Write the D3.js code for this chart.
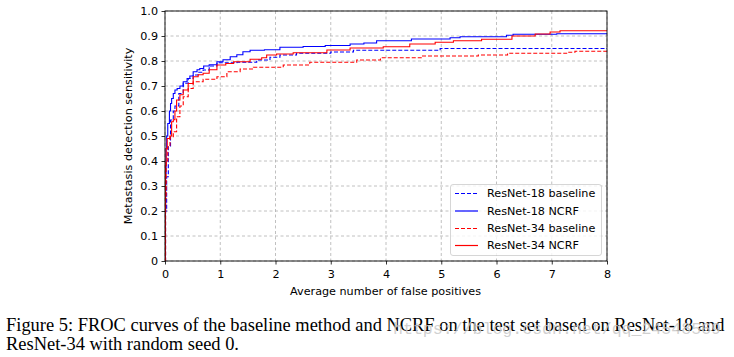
<!DOCTYPE html>
<html><head><meta charset="utf-8">
<script src="https://cdn.jsdelivr.net/npm/d3@7/dist/d3.min.js"></script>
<style>body{margin:0;background:#fff}svg{display:block}</style>
</head><body>
<svg id="c" width="734" height="357"></svg>
<script>
// ---- data ----
const xTicks = [0,1,2,3,4,5,6,7,8];
const yTicks = [0,0.1,0.2,0.3,0.4,0.5,0.6,0.7,0.8,0.9,1.0];
const yTickLabels = ["0","0.1","0.2","0.3","0.4","0.5","0.6","0.7","0.8","0.9","1.0"];
const seriesNames = ["ResNet-18 baseline","ResNet-18 NCRF","ResNet-34 baseline","ResNet-34 NCRF"];

const r18BaseX = [0,0.01,0.03,0.06,0.1,0.15,0.18,0.25,0.33,0.42,0.51,0.6,0.69,0.8,0.94,1.3,1.66,1.9,2.08,2.38,3.0,3.41,4.98,8];
const r18BaseY = [0,0.2,0.337,0.457,0.564,0.6,0.62,0.67,0.711,0.73,0.744,0.755,0.764,0.78,0.793,0.795,0.804,0.815,0.824,0.831,0.836,0.843,0.85,0.85];

const r18NcrfX = [0,0.005,0.01,0.02,0.03,0.05,0.08,0.1,0.12,0.15,0.18,0.22,0.27,0.33,0.4,0.45,0.51,0.58,0.63,0.7,0.8,0.94,1.05,1.18,1.3,1.41,1.54,1.8,2.08,2.5,2.9,3.35,3.6,3.83,4.46,5.16,5.34,6.18,6.3,7.09,8];
const r18NcrfY = [0,0.2,0.35,0.45,0.5,0.55,0.6,0.63,0.65,0.67,0.684,0.69,0.70,0.717,0.73,0.74,0.757,0.765,0.77,0.78,0.785,0.797,0.805,0.817,0.825,0.837,0.843,0.845,0.855,0.858,0.862,0.868,0.872,0.881,0.888,0.893,0.897,0.903,0.907,0.909,0.909];

const r34BaseX = [0,0.01,0.02,0.05,0.09,0.15,0.21,0.27,0.33,0.42,0.51,0.69,0.94,1.12,1.36,1.6,2.14,2.62,3.47,3.9,4.65,5.67,6.2,7.27,7.42,8];
const r34BaseY = [0,0.25,0.4,0.457,0.497,0.517,0.577,0.62,0.657,0.69,0.717,0.727,0.737,0.757,0.768,0.775,0.784,0.795,0.804,0.813,0.82,0.824,0.831,0.835,0.839,0.839];

const r34NcrfX = [0,0.005,0.01,0.02,0.04,0.09,0.12,0.15,0.18,0.21,0.27,0.33,0.42,0.51,0.6,0.69,0.8,0.94,1.1,1.24,1.54,1.75,1.84,2.02,2.32,2.93,3.35,3.95,4.43,4.89,5.22,5.73,6.28,6.7,6.97,7.15,8];
const r34NcrfY = [0,0.2,0.38,0.45,0.49,0.5,0.557,0.565,0.6,0.644,0.665,0.684,0.71,0.737,0.745,0.751,0.765,0.784,0.79,0.797,0.807,0.813,0.824,0.828,0.833,0.844,0.852,0.857,0.868,0.875,0.881,0.887,0.9,0.908,0.916,0.921,0.921];

const captionLines = ["Figure 5: FROC curves of the baseline method and NCRF on the test set based on ResNet-18 and","ResNet-34 with random seed 0."];
const watermark = "https://blog.csdn.net/qq_24548569";

// ---- drawing ----
const svg = d3.select("#c");
svg.append("rect").attr("width",734).attr("height",357).attr("fill","#fff");
const L=165, R=607, T=11, B=261;
const x = d3.scaleLinear().domain([0,8]).range([L,R]);
const y = d3.scaleLinear().domain([0,1]).range([B,T]);

const font = "'DejaVu Sans', sans-serif";
const fsz = 11.2;
// grid
const g = svg.append("g");
g.selectAll(".gx").data(xTicks).join("line")
  .attr("x1",d=>x(d)).attr("x2",d=>x(d)).attr("y1",T).attr("y2",B)
  .attr("stroke","#b0b0b0").attr("stroke-width",0.8).attr("stroke-dasharray","3,2.5");
g.selectAll(".gy").data(yTicks).join("line")
  .attr("y1",d=>y(d)).attr("y2",d=>y(d)).attr("x1",L).attr("x2",R)
  .attr("stroke","#b0b0b0").attr("stroke-width",0.8).attr("stroke-dasharray","3,2.5");

// series
const series = [
  {xs:r18BaseX, ys:r18BaseY, color:"#0000ff", dash:"4,2"},
  {xs:r18NcrfX, ys:r18NcrfY, color:"#0000ff", dash:"none"},
  {xs:r34BaseX, ys:r34BaseY, color:"#ff0000", dash:"4,2"},
  {xs:r34NcrfX, ys:r34NcrfY, color:"#ff0000", dash:"none"}
];
const line = d3.line().x(d=>x(d[0])).y(d=>y(d[1])).curve(d3.curveStepAfter);
svg.append("clipPath").attr("id","pc").append("rect").attr("x",L).attr("y",T-2).attr("width",R-L).attr("height",B-T+2);
series.forEach(s=>{
  const pts = s.xs.map((v,i)=>[v,s.ys[i]]);
  svg.append("path").attr("d",line(pts)).attr("fill","none")
    .attr("stroke",s.color).attr("stroke-width",1.1)
    .attr("stroke-dasharray",s.dash).attr("clip-path","url(#pc)");
});

// axes
const xa = svg.append("g").attr("transform",`translate(0,${B})`)
  .call(d3.axisBottom(x).tickValues(xTicks).tickFormat(d3.format("d")).tickSize(3.5).tickSizeOuter(0));
const ya = svg.append("g").attr("transform",`translate(${L},0)`)
  .call(d3.axisLeft(y).tickValues(yTicks).tickFormat((d,i)=>yTickLabels[i]).tickSize(3.5).tickSizeOuter(0));
[xa,ya].forEach(a=>{
  a.select(".domain").remove();
  a.selectAll("text").attr("font-family",font).attr("font-size",fsz).attr("fill","#000");
  a.selectAll("line").attr("stroke","#000").attr("stroke-width",0.8);
});
xa.selectAll("text").attr("dy",null).attr("y",17.3);
ya.selectAll("text").attr("x",-7).attr("dy","0.35em");

svg.append("rect").attr("x",L).attr("y",T).attr("width",R-L).attr("height",B-T)
  .attr("fill","none").attr("stroke","#000").attr("stroke-width",0.9);

svg.append("text").attr("x",385.5).attr("y",295).attr("text-anchor","middle")
  .attr("font-family",font).attr("font-size",fsz).text("Average number of false positives");
svg.append("text").attr("transform",`translate(132,${(T+B)/2}) rotate(-90)`).attr("text-anchor","middle")
  .attr("font-family",font).attr("font-size",fsz).text("Metastasis detection sensitivity");

// legend
const lg = svg.append("g");
lg.append("rect").attr("x",450.5).attr("y",184.5).attr("width",151).attr("height",71).attr("rx",2.5)
  .attr("fill","#fff").attr("fill-opacity",0.8).attr("stroke","#cccccc").attr("stroke-width",0.8);
const ly = [193.5,211,228.5,245.5];
series.forEach((s,i)=>{
  lg.append("path").attr("d",`M455,${ly[i]}H478`).attr("fill","none")
    .attr("stroke",s.color).attr("stroke-width",1.2).attr("stroke-dasharray",s.dash);
  lg.append("text").attr("x",487).attr("y",ly[i]).attr("dy","0.35em")
    .attr("font-family",font).attr("font-size",fsz).text(seriesNames[i]);
});

// caption
const cap = svg.append("g");
const c1 = cap.append("text").attr("x",6).attr("y",331).attr("font-family","'Liberation Serif', serif").attr("font-size",17).text(captionLines[0]);
const w1 = c1.node().getComputedTextLength();
const fs = 17*719/w1;
c1.attr("font-size",fs);
cap.append("text").attr("x",6).attr("y",349.5).attr("font-family","'Liberation Serif', serif").attr("font-size",fs).text(captionLines[1]);
svg.append("text").attr("x",393).attr("y",334).attr("font-family","'Liberation Mono', monospace")
  .attr("font-size",16.5).attr("fill","#c8c8c8").attr("fill-opacity",0.85)
  .attr("textLength",328).attr("lengthAdjust","spacingAndGlyphs").text(watermark);
</script>
</body></html>
